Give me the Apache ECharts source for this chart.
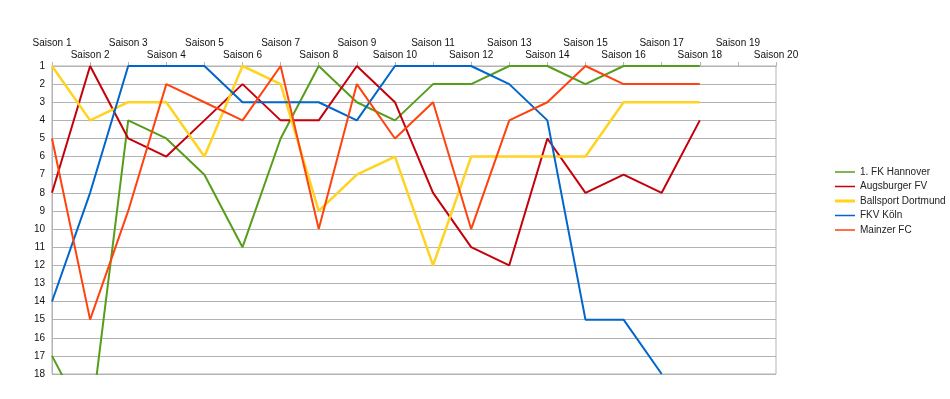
<!DOCTYPE html>
<html>
<head>
<meta charset="utf-8">
<script src="https://cdn.jsdelivr.net/npm/echarts@6/dist/echarts.min.js"></script>
<style>
  html, body { margin: 0; padding: 0; background: #fff; }
  #chart { width: 950px; height: 399px; }
</style>
</head>
<body>
<div id="chart"></div>
<script>
var seasons = ['Saison 1', 'Saison 2', 'Saison 3', 'Saison 4', 'Saison 5', 'Saison 6',
  'Saison 7', 'Saison 8', 'Saison 9', 'Saison 10', 'Saison 11', 'Saison 12',
  'Saison 13', 'Saison 14', 'Saison 15', 'Saison 16', 'Saison 17', 'Saison 18',
  'Saison 19', 'Saison 20'];

// league positions per season (1 = top)
var hannover = [17, 21, 4, 5, 7, 11, 5, 1, 3, 4, 2, 2, 1, 1, 2, 1, 1, 1];
var augsburg = [8, 1, 5, 6, 4, 2, 4, 4, 1, 3, 8, 11, 12, 5, 8, 7, 8, 4];
var dortmund = [1, 4, 3, 3, 6, 1, 2, 9, 7, 6, 12, 6, 6, 6, 6, 3, 3, 3];
var koeln = [14, 8, 1, 1, 1, 3, 3, 3, 4, 1, 1, 1, 2, 4, 15, 15, 18];
var mainz = [5, 15, 9, 2, 3, 4, 1, 10, 2, 5, 3, 10, 4, 3, 1, 2, 2, 2];

var teams = [
  {name: '1. FK Hannover', data: hannover, color: '#579d1c', width: 2},
  {name: 'Augsburger FV', data: augsburg, color: '#c5000b', width: 2},
  {name: 'Ballsport Dortmund', data: dortmund, color: '#ffd320', width: 2.5},
  {name: 'FKV Köln', data: koeln, color: '#0066cc', width: 2},
  {name: 'Mainzer FC', data: mainz, color: '#ff420e', width: 2}
];

var font = 'Liberation Sans, Arial, sans-serif';
var gridColor = '#b3b3b3';

// legend keys: a plain line inside a 20x10 box (tiny dot pins the box height)
var thinKey = 'path://M0,0L0.01,0L0.01,10ZM0,4.25L20,4.25L20,5.75L0,5.75Z';
var thickKey = 'path://M0,0L0.01,0L0.01,10ZM0,3.5L20,3.5L20,6.5L0,6.5Z';

var chart = echarts.init(document.getElementById('chart'));
chart.setOption({
  animation: false,
  textStyle: {fontFamily: font},
  grid: {
    left: 52, right: 174, top: 66, bottom: 25,
    show: true, borderColor: gridColor, borderWidth: 1
  },
  legend: {
    orient: 'vertical',
    left: 830, top: 162,
    itemWidth: 20, itemHeight: 10, itemGap: 4.5,
    textStyle: {fontSize: 10, color: '#222', fontFamily: font},
    data: teams.map(function(t) {
      return {name: t.name, icon: t.width > 2 ? thickKey : thinKey};
    })
  },
  xAxis: {
    type: 'category',
    position: 'top',
    boundaryGap: false,
    data: seasons,
    axisLine: {lineStyle: {color: gridColor, width: 1}},
    axisTick: {show: true, length: 4, lineStyle: {color: gridColor}},
    axisLabel: {
      interval: 0,
      fontSize: 10, color: '#111', fontFamily: font,
      lineHeight: 12, margin: 5,
      formatter: function(v, i) {
        // stagger the labels on two rows
        return i % 2 ? '\n' + v : v + '\n';
      }
    },
    splitLine: {show: false}
  },
  yAxis: {
    type: 'value',
    inverse: true,
    min: 1, max: 18, interval: 1,
    axisLine: {show: true, lineStyle: {color: gridColor}},
    axisTick: {show: false},
    axisLabel: {fontSize: 10, color: '#111', fontFamily: font, margin: 7},
    splitLine: {lineStyle: {color: gridColor, width: 1}}
  },
  series: teams.map(function(t) {
    return {
      name: t.name,
      type: 'line',
      data: t.data,
      symbol: 'none',
      clip: true,
      color: t.color,
      lineStyle: {color: t.color, width: t.width}
    };
  })
});
</script>
</body>
</html>
